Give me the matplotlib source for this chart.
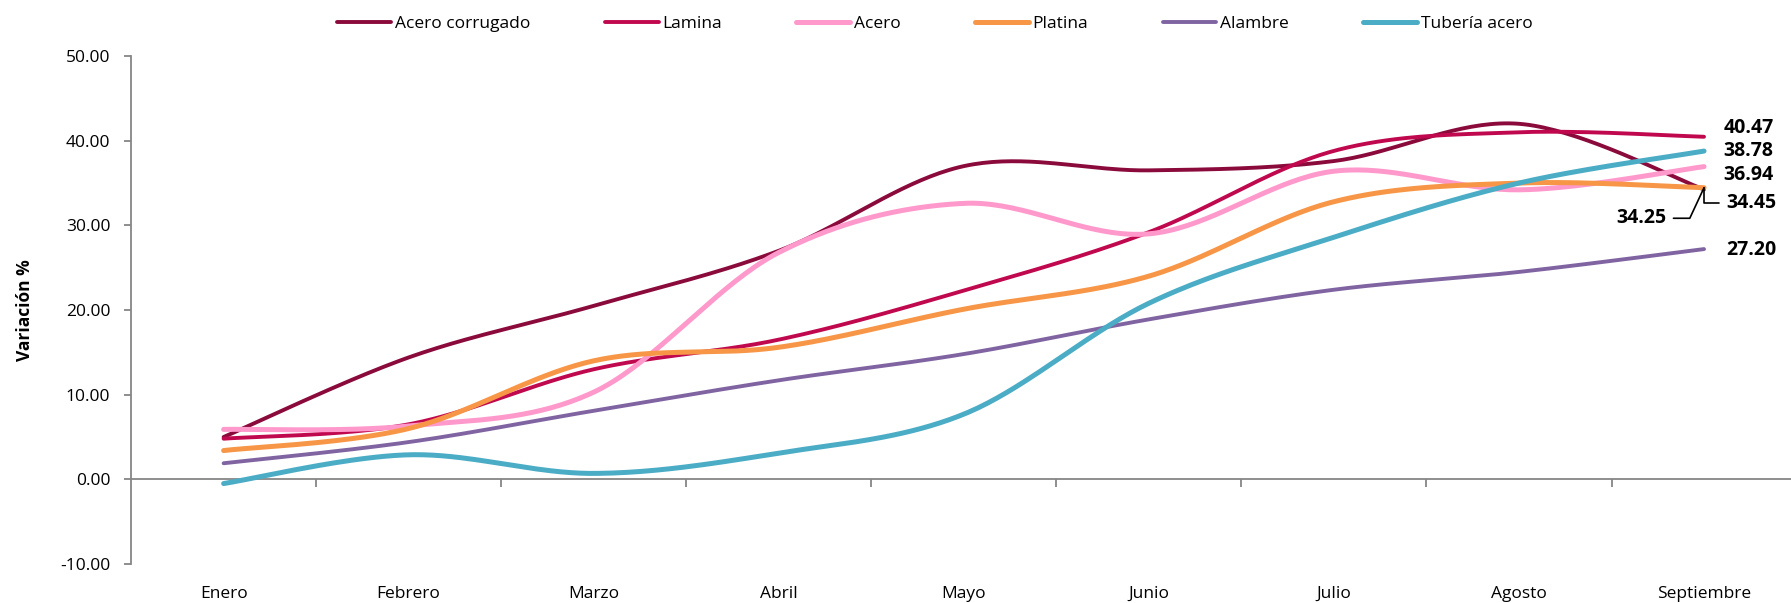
import matplotlib.pyplot as plt
import numpy as np

# Datos (variación % acumulada por mes)
meses = ['Enero', 'Febrero', 'Marzo', 'Abril', 'Mayo', 'Junio', 'Julio', 'Agosto', 'Septiembre']

acero_corrugado = [5.0, 14.4, 20.5, 27.0, 37.0, 36.5, 37.6, 42.0, 34.25]
lamina = [4.8, 6.5, 13.0, 16.5, 22.3, 29.2, 38.8, 41.0, 40.47]
acero = [5.9, 6.3, 10.3, 26.8, 32.6, 29.0, 36.4, 34.2, 36.94]
platina = [3.4, 6.0, 14.0, 15.6, 20.1, 24.0, 32.8, 35.0, 34.45]
alambre = [1.9, 4.4, 8.1, 11.7, 14.8, 18.9, 22.4, 24.5, 27.20]
tuberia = [-0.5, 2.9, 0.7, 3.1, 7.7, 20.8, 28.6, 35.0, 38.78]

series = ['Acero corrugado', 'Lamina', 'Acero', 'Platina', 'Alambre', 'Tubería acero']
valores = [acero_corrugado, lamina, acero, platina, alambre, tuberia]
colores = ['#8B0A3C', '#C0084E', '#FF99CC', '#F79646', '#8064A2', '#4BACC6']
grosores = [2.8, 2.8, 3.6, 3.6, 2.8, 3.6]

plt.rcParams['font.family'] = ['Open Sans', 'DejaVu Sans']


def suavizar(y, n=40):
    # curva suave tipo Excel (Bezier / Catmull-Rom)
    y = np.asarray(y, dtype=float)
    x = np.arange(len(y), dtype=float)
    xp = np.concatenate([[x[0]], x, [x[-1]]])
    yp = np.concatenate([[y[0]], y, [y[-1]]])
    xs, ys = [], []
    t = np.linspace(0, 1, n)
    for i in range(len(y) - 1):
        p0x, p3x = x[i], x[i + 1]
        p0y, p3y = y[i], y[i + 1]
        c1x = p0x + (xp[i + 2] - xp[i]) / 6
        c1y = p0y + (yp[i + 2] - yp[i]) / 6
        c2x = p3x - (xp[i + 3] - xp[i + 1]) / 6
        c2y = p3y - (yp[i + 3] - yp[i + 1]) / 6
        b0, b1, b2, b3 = (1 - t) ** 3, 3 * (1 - t) ** 2 * t, 3 * (1 - t) * t ** 2, t ** 3
        xs.append(b0 * p0x + b1 * c1x + b2 * c2x + b3 * p3x)
        ys.append(b0 * p0y + b1 * c1y + b2 * c2y + b3 * p3y)
    return np.concatenate(xs), np.concatenate(ys)


fig = plt.figure(figsize=(17.91, 6.03), dpi=100)
ax = fig.add_axes([0.0732, 0.0647, 0.9268, 0.8423])

for nombre, vals, col, lw in zip(series, valores, colores, grosores):
    xs, ys = suavizar(vals)
    ax.plot(xs, ys, color=col, linewidth=lw, label=nombre, solid_capstyle='round')

gris = '#868686'
x = np.arange(len(meses))
ax.set_xlim(-0.5, len(meses) - 0.53)
ax.set_ylim(-10, 50)

# eje x en cero con marcas entre categorías
ax.axhline(0, color=gris, linewidth=1.3, zorder=0)
ax.vlines(x[:-1] + 0.5, -0.9, 0, color=gris, linewidth=1.3)

ax.set_xticks(x)
ax.set_xticklabels(meses, fontsize=12.5)
ax.tick_params(axis='x', length=0, pad=16)

ax.set_yticks(np.arange(-10, 51, 10))
ax.set_yticklabels([f'{v:.2f}' for v in np.arange(-10, 51, 10)], fontsize=12.5)
ax.tick_params(axis='y', length=5, color=gris, width=1.3, pad=10)

for s in ['top', 'right', 'bottom']:
    ax.spines[s].set_visible(False)
ax.spines['left'].set_color(gris)
ax.spines['left'].set_linewidth(1.3)

ax.set_ylabel('Variación %', fontsize=12.5, fontweight='bold', labelpad=19)

# etiquetas finales
ultimo = len(meses) - 1
etiquetas = [
    (lamina[-1], 14, 6),
    (tuberia[-1], 14, 0),
    (acero[-1], 14, -6),
    (alambre[-1], 16, -1),
]
for val, dx, dy in etiquetas:
    ax.annotate(f'{val:.2f}', xy=(ultimo, val), xytext=(dx, dy), textcoords='offset points',
                ha='left', va='center', fontsize=14, fontweight='bold')

ax.annotate(f'{platina[-1]:.2f}', xy=(ultimo, platina[-1]), xytext=(16, -11),
            textcoords='offset points', ha='left', va='center', fontsize=14, fontweight='bold',
            arrowprops=dict(arrowstyle='-', color='black', lw=1.2, shrinkA=3, shrinkB=0,
                            connectionstyle='angle,angleA=0,angleB=90,rad=0'))
ax.annotate(f'{acero_corrugado[-1]:.2f}', xy=(ultimo, platina[-1]), xytext=(-27, -22),
            textcoords='offset points', ha='right', va='center', fontsize=14, fontweight='bold',
            arrowprops=dict(arrowstyle='-', color='black', lw=1.2, shrinkA=3, shrinkB=0,
                            connectionstyle='angle,angleA=0,angleB=65,rad=0'))

fig.legend(loc='upper center', bbox_to_anchor=(0.522, 1.0), ncol=6, frameon=False,
           fontsize=12.5, handlelength=3.1, handletextpad=0.2, columnspacing=4.3)

plt.savefig('out.png', dpi=100)
